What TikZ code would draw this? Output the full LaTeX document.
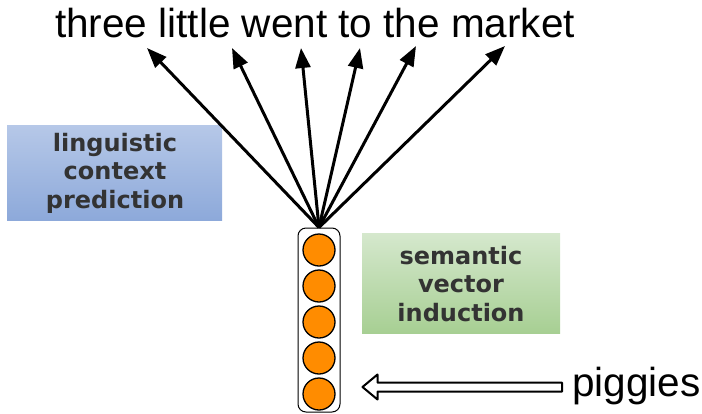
\documentclass[tikz,border=0pt]{standalone}
\usepackage{fontspec}
\setmainfont{Liberation Sans}
\newfontfamily\boxfont{DejaVu Sans}
\usetikzlibrary{arrows.meta,calc}
\definecolor{bluetop}{HTML}{B6C8E8}
\definecolor{bluebot}{HTML}{8DA9DA}
\definecolor{greentop}{HTML}{D5E8CD}
\definecolor{greenbot}{HTML}{A7CF93}
\definecolor{boxtext}{HTML}{333333}
\definecolor{dot}{HTML}{FF8C00}
\tikzset{
  bigtext/.style={font=\fontsize{40.5}{48}\selectfont, inner sep=0pt},
  labelbox/.style={minimum width=#1, inner sep=0pt, text=boxtext, align=center,
     font=\boxfont\bfseries\fontsize{24}{28.5}\selectfont},
  unit/.style={circle, draw=black, line width=1.3pt, fill=dot, minimum size=32pt, inner sep=0pt},
  column/.style={draw=black, line width=1pt, rounded corners=8pt, minimum width=42pt, minimum height=184pt, inner sep=0pt},
  arr/.style={line width=3pt, -{Triangle[length=20pt,width=15pt]}},
  hollow/.style={draw=black, fill=white, line width=2pt, line join=round}
}
\begin{document}
\begin{tikzpicture}[x=1pt,y=-1pt]
\useasboundingbox (0,0) rectangle (702,413);
% title words
\node[bigtext, anchor=base] (words) at (315,37) {three little went to the market};
% boxes
\shade[top color=bluetop, bottom color=bluebot] (7,125) rectangle (222,220);
\node[labelbox=200pt] (ling) at (115,173) {linguistic\\context\\prediction};
\shade[top color=greentop, bottom color=greenbot] (362,233) rectangle (560,333);
\node[labelbox=190pt] (sem) at (461,284) {semantic\\vector\\induction};
% column of units
\node[column] (col) at (319,320) {};
\foreach \i/\y in {1/250,2/286,3/322,4/358,5/394}
  \node[unit] (c\i) at (319,\y) {};
% arrow targets
\coordinate (t1) at (147,48);
\coordinate (t2) at (232,48);
\coordinate (t3) at (301,48);
\coordinate (t4) at (360,48);
\coordinate (t5) at (416,46);
\coordinate (t6) at (505,46);
\foreach \i in {1,...,6}
  \draw[arr] (col.north) -- (t\i);
% input word
\node[bigtext, anchor=base west] (pig) at (572,396) {piggies};
\coordinate (hatip) at ($(col.east)+(22,67)$);
\coordinate (hatail) at ($(pig.west |- hatip)+(-10,0)$);
\draw[hollow] (hatip) -- ($(hatip)+(15,-12.5)$) -- ($(hatip)+(15,-4.5)$)
  -- ($(hatail)+(0,-4.5)$) -- ($(hatail)+(0,4.5)$) -- ($(hatip)+(15,4.5)$)
  -- ($(hatip)+(15,12.5)$) -- cycle;
\end{tikzpicture}
\end{document}
